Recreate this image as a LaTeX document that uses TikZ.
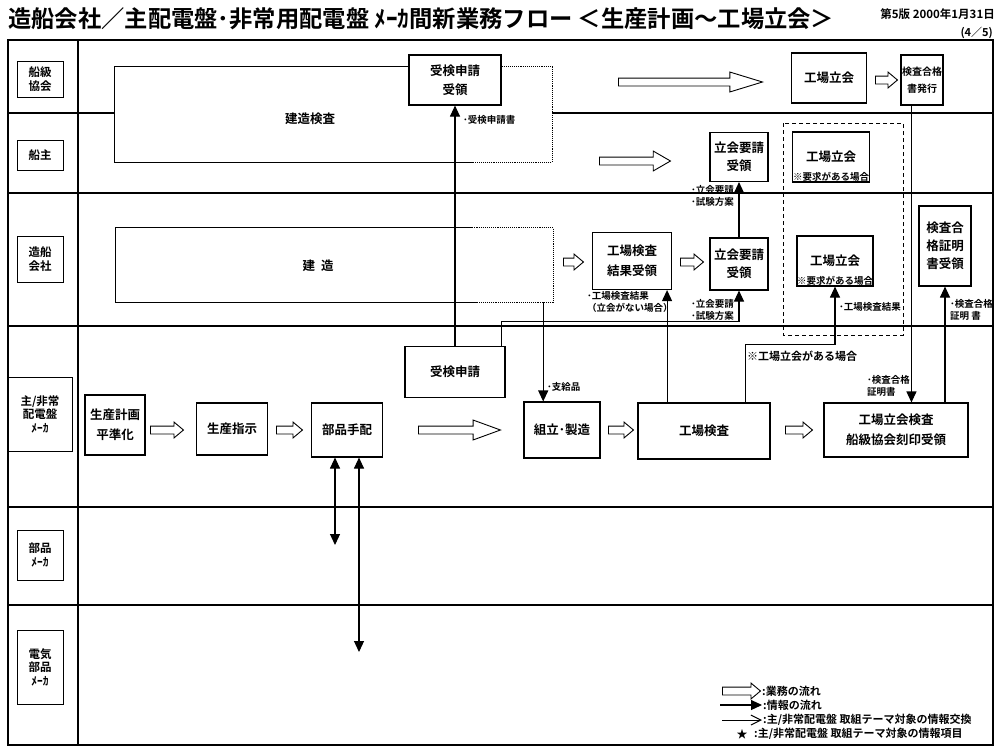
\documentclass[tikz,border=0pt]{standalone}
\usepackage{fontspec}
\setmainfont{Noto Sans CJK JP}[BoldFont=* Bold]
\usetikzlibrary{arrows.meta,shapes.arrows}
\newcommand\boxfont{\fontsize{12.5}{14}\selectfont\bfseries}
\newcommand\lanefont{\fontsize{11.5}{13.5}\selectfont\bfseries}
\newcommand\notefont{\fontsize{9.5}{12}\selectfont\bfseries}
\newcommand\legfont{\fontsize{11}{12}\selectfont\bfseries}
\newcommand\makerfont{\fontsize{11.5}{13.5}\selectfont\bfseries}

\begin{document}
\begin{tikzpicture}
	[x=1pt,y=-1pt,
	box/.style={draw,line width=1.1pt,fill=white,align=center,inner sep=1pt,font=\boxfont},
	lanebox/.style={draw,line width=0.9pt,fill=white,align=center,inner sep=1pt,font=\lanefont},
	note/.style={align=left,inner sep=0pt,anchor=west,font=\notefont},
	info/.style={line width=1.1pt,-{Triangle[length=11pt,width=10pt]}},
	infoboth/.style={line width=1.1pt,{Triangle[length=11pt,width=10pt]}-{Triangle[length=11pt,width=10pt]}},
	flow/.style={single arrow,draw,line width=0.9pt,inner sep=3.5pt,
		single arrow head extend=4pt,single arrow tip angle=80,anchor=tail},
	bigflow/.style={flow,single arrow head extend=6pt,single arrow tip angle=34}]

	\useasboundingbox (0,0) rectangle (1000,750);

	% title
	\node[anchor=west,inner sep=0pt,font=\fontsize{23.3}{25}\selectfont\bfseries] (title) at (8,19)
		{造船会社／主配電盤･非常用配電盤 ﾒｰｶ間新業務フロー ＜生産計画～工場立会＞};
	\node[anchor=east,inner sep=0pt,font=\fontsize{11.5}{13}\selectfont\bfseries] (version) at (995,14) {第5版 2000年1月31日};
	\node[anchor=east,inner sep=0pt,font=\legfont] (page) at (993,33) {(4／5)};

	% frame and lanes
	\draw[line width=1.4pt] (8,40) rectangle (993,745);
	\draw[line width=1.1pt] (78,40) -- (78,745);
	\foreach \y in {113,193,326,507,605}
		\draw[line width=1.1pt] (8,\y) -- (993,\y);

	% lane names
	\node[lanebox,minimum width=46pt,minimum height=36pt] (classlbl) at (40,79) {船級\\協会};
	\node[lanebox,minimum width=46pt,minimum height=30pt] (ownerlbl) at (40,155) {船主};
	\node[lanebox,minimum width=46pt,minimum height=46pt] (yardlbl) at (40,259) {造船\\会社};
	\node[lanebox,minimum width=64pt,minimum height=74pt] (makerlbl) at (40,414) {主/非常\\配電盤\\{\makerfont ﾒｰｶ}};
	\node[lanebox,minimum width=46pt,minimum height=50pt] (partslbl) at (40,555) {部品\\{\makerfont ﾒｰｶ}};
	\node[lanebox,minimum width=46pt,minimum height=74pt] (eleclbl) at (40,667) {電気\\部品\\{\makerfont ﾒｰｶ}};

	% long activities
	\node[fill=white,minimum width=437pt,minimum height=95pt] (kensa) at (333.5,114.5) {};
	\node[font=\boxfont] (kensatxt) at (310,119) {建造検査};
	\node[fill=white,minimum width=437pt,minimum height=74pt] (kenzo) at (334.5,265) {};
	\node[font=\boxfont] (kenzotxt) at (318,266) {建\hspace{6pt}造};

	% class society
	\node[box,minimum width=92pt,minimum height=50pt] (jukenrecv) at (455,80) {受検申請\\[5pt]受領};
	\node[box,minimum width=75pt,minimum height=50pt] (tclass) at (829,78) {工場立会};
	\node[box,minimum width=41pt,minimum height=50pt,font=\fontsize{10}{17}\selectfont\bfseries] (hakko) at (922,80) {検査合格\\書発行};

	\draw[line width=1.1pt] ([xshift=-79pt]kensa.south east) -- (kensa.south west) -- (kensa.north west)
		-- (kensa.north west -| jukenrecv.west);
	\draw[line width=1.1pt,densely dotted] (kensa.north east -| jukenrecv.east) -- (kensa.north east)
		-- (kensa.south east) -- ([xshift=-79pt]kensa.south east);
	\draw[line width=1.1pt] ([xshift=-81pt]kenzo.north east) -- (kenzo.north west) -- (kenzo.south west)
		-- ([xshift=-76pt]kenzo.south east);
	\draw[line width=1.1pt,densely dotted] ([xshift=-81pt]kenzo.north east) -- (kenzo.north east)
		-- (kenzo.south east) -- ([xshift=-76pt]kenzo.south east);

	% owner
	\node[box,minimum width=58pt,minimum height=49pt,font=\fontsize{12.5}{18}\selectfont\bfseries] (yosei1) at (739,157) {立会要請\\受領};
	\node[box,minimum width=77pt,minimum height=50pt] (towner) at (831,157) {工場立会};
	\node[note,anchor=south,inner sep=1pt] (townernote) at (towner.south) {※要求がある場合};

	% shipyard
	\node[box,minimum width=79pt,minimum height=57pt] (kekka) at (632,261) {工場検査\\[6pt]結果受領};
	\node[box,minimum width=58pt,minimum height=52pt,font=\fontsize{12.5}{18}\selectfont\bfseries] (yosei2) at (739,264) {立会要請\\受領};
	\node[box,minimum width=76pt,minimum height=50pt] (tyard) at (835,261) {工場立会};
	\node[note,anchor=south,inner sep=1pt] (tyardnote) at (tyard.south) {※要求がある場合};
	\node[box,minimum width=52pt,minimum height=80pt,font=\fontsize{12.5}{18}\selectfont\bfseries] (shomei) at (945,246) {検査合\\格証明\\書受領};
	\draw[line width=1pt,dash pattern=on 4pt off 3pt] (783,123) rectangle (903,335);

	% switchboard maker
	\node[box,minimum width=60pt,minimum height=60pt] (keikaku) at (115,425) {生産計画\\[6pt]平準化};
	\node[box,minimum width=71pt,minimum height=52pt] (shiji) at (232,429) {生産指示};
	\node[box,minimum width=71pt,minimum height=54pt] (tehai) at (347,430) {部品手配};
	\node[box,minimum width=100pt,minimum height=51pt] (juken) at (455,372) {受検申請};
	\node[box,minimum width=76pt,minimum height=56pt] (kumitate) at (562,430) {組立･製造};
	\node[box,minimum width=132pt,minimum height=56pt] (kojo) at (704,431) {工場検査};
	\node[box,minimum width=144pt,minimum height=54pt] (tkensa) at (896,430) {工場立会検査\\[6pt]船級協会刻印受領};

	% business flow
	\node[bigflow,minimum height=144pt] (f1) at (618,82) {};
	\node[flow,minimum height=22pt] (f2) at (875,80) {};
	\node[bigflow,minimum height=71pt,single arrow tip angle=60] (f3) at (599,161) {};
	\node[flow,minimum height=20pt] (f4) at (563,262) {};
	\node[flow,minimum height=23pt] (f5) at (680,262) {};
	\node[flow,minimum height=33pt] (f6) at (150,430) {};
	\node[flow,minimum height=26pt] (f7) at (276,430) {};
	\node[bigflow,minimum height=82pt,single arrow tip angle=40] (f8) at (418,430) {};
	\node[flow,minimum height=25pt] (f9) at (608,430) {};
	\node[flow,minimum height=27pt] (f10) at (785,430) {};

	% information flow
	\draw[info] (juken.north) -- (jukenrecv.south);
	\draw[info] ([xshift=-4pt]juken.north east) |- ([yshift=-31pt]yosei2.south) -- (yosei2.south);
	\draw[info] ([xshift=-10pt]kenzo.south east) -- ([xshift=-10pt]kenzo.south east |- kumitate.north);
	\draw[info] ([xshift=-5pt]kekka.south east |- kojo.north) -- ([xshift=-5pt]kekka.south east);
	\draw[info] (yosei2.north) -- (yosei1.south);
	\draw[info] ([xshift=-25pt]kojo.north east) |- ([yshift=-58pt]tyard.south) -- (tyard.south);
	\draw[info] ([xshift=11pt]hakko.south west) -- ([xshift=11pt]hakko.south west |- tkensa.north);
	\draw[info] (shomei.south |- tkensa.north) -- (shomei.south);
	\coordinate (partsend) at (335,545);
	\coordinate (elecend) at (359,652);
	\draw[infoboth] (tehai.south -| partsend) -- (partsend);
	\draw[infoboth] (tehai.south -| elecend) -- (elecend);

	% notes
	\node[note] (n1) at (463,120) {･受検申請書};
	\node[note] (n2) at (547,387) {･支給品};
	\node[note] (n3) at (587,302) {･工場検査結果\\（立会がない場合）};
	\node[note] (n4) at (691,310) {･立会要請\\･試験方案};
	\node[note] (n5) at (691,196) {･立会要請\\･試験方案};
	\node[note] (n6) at (839,307) {･工場検査結果};
	\node[note] (n7) at (950,310) {･検査合格\\証明 書};
	\node[note,font=\fontsize{11}{12}\selectfont\bfseries] (n8) at (747,356) {※工場立会がある場合};
	\node[note] (n9) at (867,386) {･検査合格\\証明書};

	% legend
	\node[flow,minimum height=38pt] (leg1) at (722,691) {};
	\coordinate (leg2a) at (720,705);
	\coordinate (leg2b) at (762,705);
	\draw[info] (leg2a) -- (leg2b);
	\coordinate (leg3a) at (722,720);
	\coordinate (leg3b) at (762,720);
	\draw[line width=1pt,-{Straight Barb[length=10pt,width=10pt]}] (leg3a) -- (leg3b);
	\node[inner sep=0pt,font=\legfont] (leg4) at (742,734) {★};
	\node[note,font=\legfont] (legt1) at (762,691) {:業務の流れ};
	\node[note,font=\legfont] (legt2) at (763,705) {:情報の流れ};
	\node[note,font=\legfont] (legt3) at (763,720) {:主/非常配電盤 取組テーマ対象の情報交換};
	\node[note,font=\legfont] (legt4) at (754,734) {:主/非常配電盤 取組テーマ対象の情報項目};
\end{tikzpicture}
\end{document}
